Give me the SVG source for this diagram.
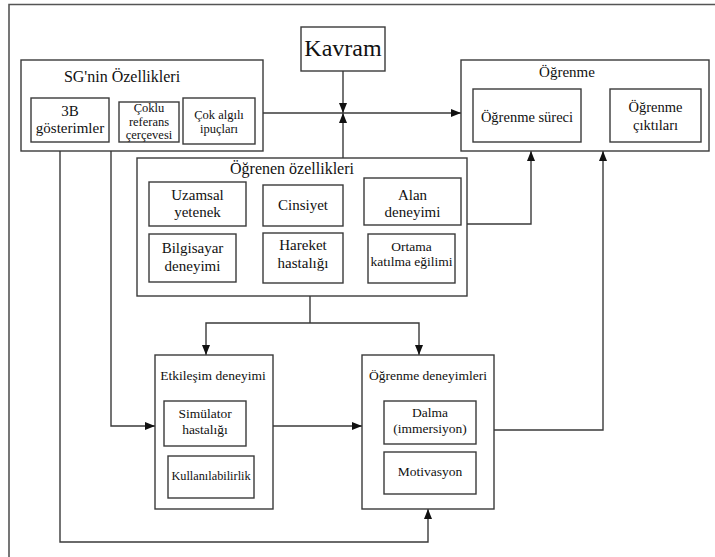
<svg xmlns="http://www.w3.org/2000/svg" width="715" height="557" viewBox="0 0 715 557" font-family="'Liberation Serif', 'DejaVu Serif', serif">
<defs>
<marker id="ah" markerUnits="userSpaceOnUse" markerWidth="10" markerHeight="10" viewBox="0 0 10 10" refX="10" refY="5" orient="auto">
<path d="M0,1 L10,5 L0,9 Z" fill="#111"/>
</marker>
<style>
rect{fill:#fff;stroke:#3a3a3a;stroke-width:1.4}
text{font-family:'Liberation Serif','DejaVu Serif',serif;fill:#111;text-anchor:middle}
.c path{fill:none;stroke:#3a3a3a;stroke-width:1.4}
.a{marker-end:url(#ah)}
</style>
</defs>
<rect width="715" height="557" style="fill:#fff;stroke:none"/>
<path d="M9,557 V4.5 H715" fill="none" stroke="#555" stroke-width="1.6"/>

<g class="c" id="connectors">
<path class="a" d="M343,71 V113"/>
<path class="a" d="M343,158 V113"/>
<path class="a" d="M263,113 H461"/>
<path class="a" d="M581,121 H610"/>
<path class="a" d="M467,224 H531 V151"/>
<path d="M310,296 V323"/>
<path class="a" d="M310,323 H206 V355"/>
<path class="a" d="M310,323 H419 V355"/>
<path class="a" d="M111,151 V426 H155"/>
<path class="a" d="M60,151 V542 H428 V509"/>
<path class="a" d="M273,426 H362"/>
<path class="a" d="M494,430 H603 V151"/>
</g>

<g id="kavram">
<rect x="301" y="27" width="84" height="44"/>
<text x="343" y="56" font-size="24">Kavram</text>
</g>

<g id="sg">
<rect x="21" y="60" width="242" height="91"/>
<text x="122" y="82" font-size="16">SG'nin Özellikleri</text>
<g id="sg-3b">
<rect x="31" y="98" width="78" height="44"/>
<text x="70" y="116" font-size="15">3B</text>
<text x="70" y="133" font-size="15">gösterimler</text>
</g>
<g id="sg-coklu">
<rect x="119" y="102" width="60" height="40"/>
<text x="149" y="112" font-size="12.5">Çoklu</text>
<text x="149" y="126" font-size="12.5">referans</text>
<text x="149" y="139" font-size="12.5">çerçevesi</text>
</g>
<g id="sg-cok">
<rect x="183" y="98" width="72" height="46"/>
<text x="219" y="119" font-size="12.5">Çok algılı</text>
<text x="219" y="133" font-size="12.5">ipuçları</text>
</g>
</g>

<g id="ogrenme">
<rect x="461" y="60" width="248" height="91"/>
<text x="567" y="77" font-size="15">Öğrenme</text>
<g id="ogrenme-sureci">
<rect x="473" y="89" width="108" height="53"/>
<text x="527" y="122" font-size="14.5">Öğrenme süreci</text>
</g>
<g id="ogrenme-ciktilari">
<rect x="610" y="89" width="91" height="53"/>
<text x="655.5" y="112" font-size="14.5">Öğrenme</text>
<text x="655.5" y="130" font-size="14.5">çıktıları</text>
</g>
</g>

<g id="ogrenen">
<rect x="137" y="158" width="330" height="138"/>
<text x="292" y="174" font-size="16">Öğrenen özellikleri</text>
<g id="uzamsal">
<rect x="149" y="182" width="97" height="44"/>
<text x="197.5" y="200" font-size="15">Uzamsal</text>
<text x="197.5" y="217" font-size="15">yetenek</text>
</g>
<g id="cinsiyet">
<rect x="263" y="185" width="80" height="41"/>
<text x="303" y="210" font-size="15">Cinsiyet</text>
</g>
<g id="alan">
<rect x="364" y="178" width="97" height="47"/>
<text x="412.5" y="200" font-size="15">Alan</text>
<text x="412.5" y="217" font-size="15">deneyimi</text>
</g>
<g id="bilgisayar">
<rect x="149" y="234" width="87" height="48"/>
<text x="192.5" y="253" font-size="15">Bilgisayar</text>
<text x="192.5" y="271" font-size="15">deneyimi</text>
</g>
<g id="hareket">
<rect x="263" y="233" width="80" height="50"/>
<text x="303" y="250" font-size="15">Hareket</text>
<text x="303" y="268" font-size="15">hastalığı</text>
</g>
<g id="ortama">
<rect x="368" y="234" width="87" height="49"/>
<text x="411.5" y="251" font-size="13.5">Ortama</text>
<text x="411.5" y="266" font-size="13.5">katılma eğilimi</text>
</g>
</g>

<g id="etkilesim">
<rect x="155" y="355" width="118" height="154"/>
<text x="213" y="380" font-size="13.5">Etkileşim deneyimi</text>
<g id="simulator">
<rect x="164" y="401" width="82" height="45"/>
<text x="205" y="418" font-size="13.5">Simülator</text>
<text x="205" y="434" font-size="13.5">hastalığı</text>
</g>
<g id="kullanilabilirlik">
<rect x="168" y="456" width="86" height="42"/>
<text x="211" y="480" font-size="12.3">Kullanılabilirlik</text>
</g>
</g>

<g id="ogrenme-deneyimleri">
<rect x="362" y="355" width="132" height="154"/>
<text x="428" y="380" font-size="13.5">Öğrenme deneyimleri</text>
<g id="dalma">
<rect x="384" y="401" width="92" height="43"/>
<text x="430" y="417" font-size="13.5">Dalma</text>
<text x="430" y="433" font-size="13.5">(immersiyon)</text>
</g>
<g id="motivasyon">
<rect x="384" y="452" width="92" height="42"/>
<text x="430" y="476" font-size="13.5">Motivasyon</text>
</g>
</g>
</svg>
